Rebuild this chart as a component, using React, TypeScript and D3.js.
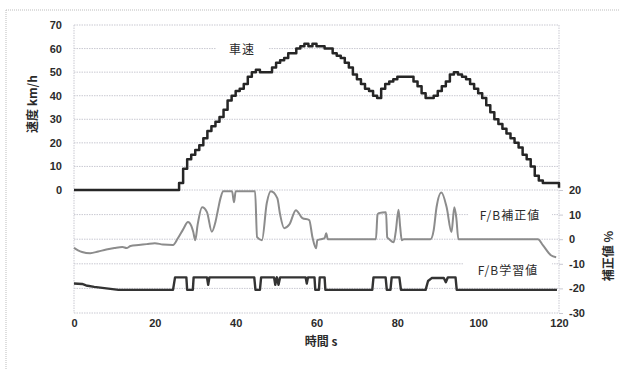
import { useEffect, useRef } from "react";
import * as d3 from "d3";

const WIDTH = 619;
const HEIGHT = 369;

// 車速 km/h, one value per second (t = index)
const speedValues = [
  0, 0, 0, 0, 0, 0, 0, 0, 0, 0, 0, 0, 0, 0, 0, 0, 0, 0, 0, 0,
  0, 0, 0, 0, 0, 0, 3, 9, 13, 15, 17, 19, 22, 25, 27, 29, 31, 34, 38, 40,
  42, 43, 45, 48, 50, 51, 50, 50, 50, 52, 54, 55, 56, 58, 58, 60, 61, 62, 61, 62,
  61, 61, 60, 60, 58, 57, 56, 54, 52, 49, 47, 45, 43, 42, 40, 39, 43, 45, 46, 47,
  48, 48, 48, 48, 46, 44, 41, 39, 39, 40, 42, 44, 46, 49, 50, 49, 48, 47, 45, 43,
  41, 39, 36, 33, 30, 28, 26, 24, 22, 20, 18, 15, 13, 10, 6, 4, 3, 3, 3, 3, 1,
];

// F/B補正値 % : [time s, value]
const fbCorrection: [number, number][] = [
  [0, -3.5], [1, -4.5], [2, -5.2], [4, -5.7], [6, -5], [8, -4.2], [10, -3.6], [12, -3.2],
  [13, -3.6], [14, -2.8], [16, -2.4], [18, -2], [20, -1.6], [22, -2.2], [24.5, -2.4],
  [25.7, 0.4], [27, 4], [28.2, 7], [29, 5.5], [29.5, 3], [30, -0.4], [30.6, 6], [31.7, 13],
  [32.9, 11], [34.1, 3], [35, 7], [35.6, 11.8], [36.3, 17], [36.9, 19.5], [39.1, 19.5],
  [39.6, 15], [40, 19.5], [44.8, 19.5], [45.3, 0.8], [46.5, -0.4], [47.7, 14.7], [48.7, 19.5],
  [50.3, 16.7], [51, 10], [52, 4.5], [53.3, 6], [54.9, 11.8], [56.5, 8.6], [58.2, 7.8],
  [59, 0.8], [59.9, -3.7], [60.2, -0.4], [62, 0.4], [62.4, 2.4], [62.8, 0], [74.7, 0],
  [75.1, 10], [75.4, 10.6], [77.2, 11], [77.5, 0.8], [78, 0], [79.1, -1.2], [79.6, 3],
  [80.3, 12], [80.7, 5], [81.1, -0.4], [81.6, 0], [88.2, 0], [89, 3.7], [89.7, 13],
  [90.9, 19], [92.2, 13], [93.4, 2.9], [94.1, 13], [94.6, 8.6], [95.1, 0], [114.8, 0],
  [116, -2.4], [118, -6.5], [119.3, -7.3],
];

// F/B学習値 % : [time s, value]
const fbLearning: [number, number][] = [
  [0, -18], [2, -18.2], [3, -18.8], [5, -19.4], [7, -19.8], [9, -20.2], [11, -20.6],
  [24.5, -20.6], [25, -15.5], [27.8, -15.5], [28, -20.6], [29.4, -20.6], [29.6, -15.5],
  [32.9, -15.5], [33.2, -18.5], [33.5, -15.5], [44.6, -15.5], [44.9, -20.6], [46, -20.6],
  [46.3, -15.5], [49.5, -15.5], [49.8, -18.5], [50.2, -15.5], [50.6, -18.5], [51, -15.5],
  [57.3, -15.5], [57.6, -18], [57.9, -15.5], [59.5, -15.5], [59.7, -20.6], [60.6, -20.6],
  [60.8, -15.5], [62, -15.5], [62.2, -20.6], [73.8, -20.6], [74.1, -15.5], [77.1, -15.5],
  [77.4, -20.6], [78.3, -20.6], [78.6, -15.5], [80.5, -15.5], [80.9, -20.6], [87, -20.6],
  [87.6, -17], [88.5, -15.8], [91.5, -15.8], [92, -17.5], [92.5, -15.5], [94.4, -15.5],
  [94.7, -20.6], [119.5, -20.6],
];

const xTicks = [0, 20, 40, 60, 80, 100, 120];
const leftTicks = [0, 10, 20, 30, 40, 50, 60, 70];
const rightTicks = [20, 10, 0, -10, -20, -30];

const COLORS = {
  speed: "#262626",
  correction: "#8c8c8c",
  learning: "#333333",
  grid: "#c9c9d2",
  frame: "#bdbdbd",
  text: "#2b2b2b",
};

const FONT = "'Liberation Sans', 'Noto Sans', sans-serif";
const JP_FONT = "'Noto Sans CJK JP', sans-serif";

export default function App() {
  const svgRef = useRef<SVGSVGElement>(null);

  useEffect(() => {
    if (!svgRef.current) return;
    const svg = d3.select(svgRef.current);
    svg.selectAll("*").remove();

    const x = d3.scaleLinear().domain([0, 120]).range([74, 559]);
    const yL = d3.scaleLinear().domain([0, 70]).range([190, 25]);
    const yR = d3.scaleLinear().domain([-30, 20]).range([313, 190]);

    svg.append("rect").attr("width", WIDTH).attr("height", HEIGHT).attr("fill", "#fff");

    // outer frame (top + left only visible)
    svg.append("line")
      .attr("x1", 6).attr("x2", WIDTH).attr("y1", 10).attr("y2", 10)
      .attr("stroke", COLORS.frame).attr("stroke-dasharray", "1,1");
    svg.append("line")
      .attr("x1", 6).attr("x2", 6).attr("y1", 10).attr("y2", HEIGHT)
      .attr("stroke", COLORS.frame).attr("stroke-dasharray", "1,1");

    // grid
    const grid = svg.append("g");
    grid.selectAll("line.gl")
      .data(leftTicks.filter((d) => d > 0))
      .join("line")
      .attr("x1", x(0)).attr("x2", x(120))
      .attr("y1", (d) => yL(d)).attr("y2", (d) => yL(d))
      .attr("stroke", COLORS.grid).attr("stroke-dasharray", "1.5,1");
    grid.selectAll("line.gr")
      .data(rightTicks)
      .join("line")
      .attr("x1", x(0)).attr("x2", x(120))
      .attr("y1", (d) => yR(d)).attr("y2", (d) => yR(d))
      .attr("stroke", COLORS.grid).attr("stroke-dasharray", "1.5,1");
    grid.append("line")
      .attr("x1", x(0)).attr("x2", x(0)).attr("y1", yL(70)).attr("y2", yR(-30))
      .attr("stroke", COLORS.grid).attr("stroke-dasharray", "1.5,1");
    grid.append("line")
      .attr("x1", x(120)).attr("x2", x(120)).attr("y1", yL(70)).attr("y2", yR(-30))
      .attr("stroke", COLORS.grid).attr("stroke-dasharray", "1.5,1");

    // in-plot label boxes
    const labels = [
      { text: "車速", cx: 242, cy: yL(60), w: 52 },
      { text: "F/B補正値", cx: 510, cy: yR(10), w: 84 },
      { text: "F/B学習値", cx: 508, cy: yR(-12.5), w: 88 },
    ];
    labels.forEach((l) => {
      svg.append("rect")
        .attr("x", l.cx - l.w / 2).attr("y", l.cy - 9)
        .attr("width", l.w).attr("height", 18)
        .attr("fill", "#fff");
    });

    // lines
    const speedLine = d3.line<number>()
      .x((_, i) => x(i))
      .y((d) => yL(d))
      .curve(d3.curveStepAfter);
    const corrLine = d3.line<[number, number]>()
      .x((d) => x(d[0]))
      .y((d) => yR(d[1]))
      .curve(d3.curveMonotoneX);
    const learnLine = d3.line<[number, number]>()
      .x((d) => x(d[0]))
      .y((d) => yR(d[1]));

    svg.append("path")
      .datum(fbLearning)
      .attr("d", learnLine)
      .attr("fill", "none")
      .attr("stroke", COLORS.learning)
      .attr("stroke-width", 2.4)
      .attr("stroke-linejoin", "round");

    svg.append("path")
      .datum(fbCorrection)
      .attr("d", corrLine)
      .attr("fill", "none")
      .attr("stroke", COLORS.correction)
      .attr("stroke-width", 2)
      .attr("stroke-linejoin", "round");

    svg.append("path")
      .datum(speedValues)
      .attr("d", speedLine)
      .attr("fill", "none")
      .attr("stroke", COLORS.speed)
      .attr("stroke-width", 2.5)
      .attr("stroke-linejoin", "round");

    labels.forEach((l) => {
      svg.append("text")
        .attr("x", l.cx).attr("y", l.cy)
        .attr("text-anchor", "middle")
        .attr("dominant-baseline", "central")
        .attr("font-family", JP_FONT)
        .attr("font-size", 12)
        .attr("fill", COLORS.text)
        .attr("letter-spacing", 1)
        .text(l.text);
    });

    // axes
    const styleAxis = (g: d3.Selection<SVGGElement, unknown, null, undefined>) => {
      g.select(".domain").remove();
      g.selectAll("text")
        .attr("font-family", FONT)
        .attr("font-size", 11)
        .attr("font-weight", 700)
        .attr("fill", COLORS.text);
    };

    svg.append("g")
      .attr("transform", `translate(0,${yR(-30)})`)
      .call(d3.axisBottom(x).tickValues(xTicks).tickSize(0).tickPadding(6))
      .call(styleAxis);

    svg.append("g")
      .attr("transform", `translate(${x(0) - 10},0)`)
      .call(d3.axisLeft(yL).tickValues(leftTicks).tickSize(0).tickPadding(2))
      .call(styleAxis);

    svg.append("g")
      .attr("transform", `translate(${x(120)},0)`)
      .call(d3.axisRight(yR).tickValues(rightTicks).tickSize(4).tickPadding(6)
        .tickFormat((d) => String(d).replace("−", "-")))
      .call(styleAxis)
      .call((g) => g.selectAll("line").attr("stroke", COLORS.grid));

    // axis titles
    svg.append("text")
      .attr("transform", `translate(31,104) rotate(-90)`)
      .attr("text-anchor", "middle")
      .attr("dominant-baseline", "central")
      .attr("font-family", JP_FONT)
      .attr("font-size", 12)
      .attr("font-weight", 700)
      .attr("fill", COLORS.text)
      .text("速度 km/h");

    svg.append("text")
      .attr("x", 321).attr("y", 346)
      .attr("text-anchor", "middle")
      .attr("font-family", JP_FONT)
      .attr("font-size", 12)
      .attr("font-weight", 700)
      .attr("fill", COLORS.text)
      .text("時間 s");

    svg.append("text")
      .attr("transform", `translate(607,256) rotate(-90)`)
      .attr("text-anchor", "middle")
      .attr("dominant-baseline", "central")
      .attr("font-family", JP_FONT)
      .attr("font-size", 12)
      .attr("font-weight", 700)
      .attr("fill", COLORS.text)
      .text("補正値 %");
  }, []);

  return (
    <svg
      ref={svgRef}
      width={WIDTH}
      height={HEIGHT}
      style={{ position: "absolute", left: 0, top: 0 }}
    />
  );
}
